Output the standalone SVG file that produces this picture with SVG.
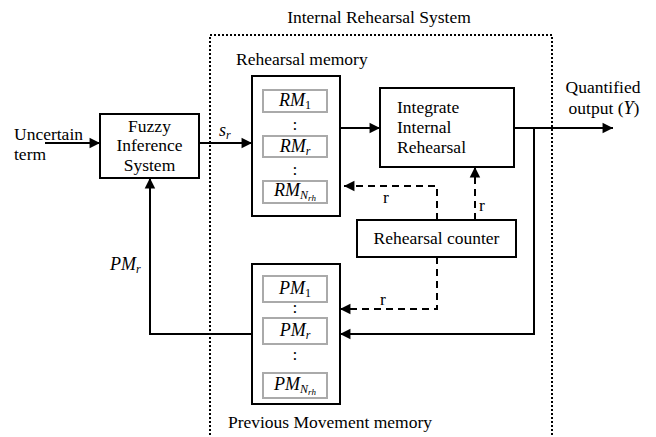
<svg xmlns="http://www.w3.org/2000/svg" width="656" height="437" viewBox="0 0 656 437">
<style>
text{font-family:"Liberation Serif","Times New Roman",serif;font-size:17.5px;fill:#000}
.m{font-style:italic;font-size:18px}
.s{font-size:12px;font-style:italic}
.up{font-style:normal}
.box{fill:#fff;stroke:#000;stroke-width:2}
.cell{fill:#fff;stroke:#aaa;stroke-width:2}
.ln{fill:none;stroke:#000;stroke-width:2}
.da{fill:none;stroke:#000;stroke-width:2;stroke-dasharray:7,5}
</style>
<defs>
<marker id="ah" viewBox="0 0 10 10" refX="10" refY="5" markerWidth="7" markerHeight="7" markerUnits="userSpaceOnUse" orient="auto" style="overflow:visible">
<path d="M0,0 L10,5 L0,10 z" fill="#000" transform="scale(1.5) translate(-3.3,-1.7)"/>
</marker>
</defs>
<g id="system">
<rect x="210" y="35" width="342" height="420" fill="none" stroke="#000" stroke-width="2" stroke-dasharray="2,2"/>
<text x="379" y="23" text-anchor="middle">Internal Rehearsal System</text>
</g>
<g id="connectors">
<line class="ln" x1="45" y1="143" x2="100" y2="143" marker-end="url(#ah)"/>
<line class="ln" x1="199" y1="143" x2="252" y2="143" marker-end="url(#ah)"/>
<line class="ln" x1="340" y1="128" x2="380" y2="128" marker-end="url(#ah)"/>
<line class="ln" x1="514" y1="128" x2="613" y2="128" marker-end="url(#ah)"/>
<polyline class="ln" points="534,128 534,334 340,334" marker-end="url(#ah)"/>
<polyline class="ln" points="252,334 150,334 150,178" marker-end="url(#ah)"/>
<polyline class="da" points="437,220 437,186 344,186" marker-end="url(#ah)"/>
<line class="da" x1="475" y1="220" x2="475" y2="167" marker-end="url(#ah)"/>
<polyline class="da" points="437,257 437,309 340,309" marker-end="url(#ah)"/>
<text x="383" y="203">r</text>
<text x="479" y="211">r</text>
<text x="380" y="305">r</text>
<text x="219" y="136" class="m">s<tspan class="s" dy="3">r</tspan></text>
<text x="110" y="270" class="m">PM<tspan class="s" dy="3">r</tspan></text>
</g>
<g id="input">
<text x="14" y="140">Uncertain</text>
<text x="14" y="160">term</text>
</g>
<g id="fuzzy">
<rect class="box" x="100" y="114" width="99" height="64"/>
<text x="149.5" y="132" text-anchor="middle">Fuzzy</text>
<text x="149.5" y="151" text-anchor="middle">Inference</text>
<text x="149.5" y="171" text-anchor="middle">System</text>
</g>
<g id="rehearsal-memory">
<text x="236" y="65">Rehearsal memory</text>
<rect class="box" x="252" y="76" width="88" height="140"/>
<rect class="cell" x="263" y="90" width="64" height="22"/>
<text x="295" y="106" text-anchor="middle" class="m">RM<tspan class="s up" dy="3">1</tspan></text>
<text x="295" y="130" text-anchor="middle">:</text>
<rect class="cell" x="263" y="136" width="64" height="21"/>
<text x="295" y="152" text-anchor="middle" class="m">RM<tspan class="s" dy="3">r</tspan></text>
<text x="295" y="175" text-anchor="middle">:</text>
<rect class="cell" x="263" y="181" width="64" height="22"/>
<text x="295" y="196" text-anchor="middle" class="m">RM<tspan class="s" dy="3">N<tspan font-size="9" dy="2">rh</tspan></tspan></text>
</g>
<g id="integrate">
<rect class="box" x="380" y="88" width="134" height="79"/>
<text x="397" y="113">Integrate</text>
<text x="397" y="133">Internal</text>
<text x="397" y="153">Rehearsal</text>
</g>
<g id="counter">
<rect class="box" x="357" y="220" width="159" height="37"/>
<text x="436.5" y="244" text-anchor="middle">Rehearsal counter</text>
</g>
<g id="output">
<text x="603" y="93" text-anchor="middle">Quantified</text>
<text x="604" y="114" text-anchor="middle">output (<tspan class="m">Y</tspan>)</text>
</g>
<g id="previous-memory">
<rect class="box" x="252" y="264" width="88" height="140"/>
<rect class="cell" x="263" y="276" width="64" height="26"/>
<text x="295" y="294" text-anchor="middle" class="m">PM<tspan class="s up" dy="3">1</tspan></text>
<text x="295" y="313" text-anchor="middle">:</text>
<rect class="cell" x="263" y="318" width="64" height="26"/>
<text x="295" y="336" text-anchor="middle" class="m">PM<tspan class="s" dy="3">r</tspan></text>
<text x="295" y="360" text-anchor="middle">:</text>
<rect class="cell" x="263" y="373" width="64" height="25"/>
<text x="295" y="390" text-anchor="middle" class="m">PM<tspan class="s" dy="3">N<tspan font-size="9" dy="2">rh</tspan></tspan></text>
<text x="330" y="428" text-anchor="middle">Previous Movement memory</text>
</g>
</svg>
